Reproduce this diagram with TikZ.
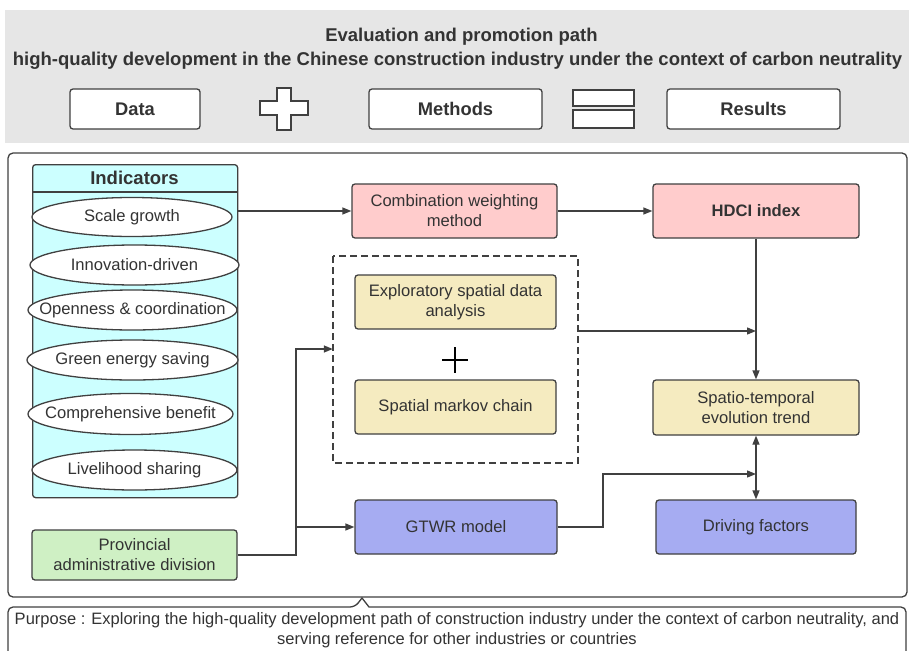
\documentclass[tikz,border=0pt]{standalone}
\usepackage{fontspec}
\setmainfont{Liberation Sans}
\usetikzlibrary{arrows.meta,shapes.geometric,calc}
\definecolor{lc}{HTML}{404040}
\definecolor{txt}{HTML}{333333}
\definecolor{bandgray}{HTML}{E6E6E6}
\definecolor{cyanf}{HTML}{CCFFFF}
\definecolor{pinkf}{HTML}{FFCCCC}
\definecolor{yelf}{HTML}{F5EBC0}
\definecolor{bluef}{HTML}{A6ACF2}
\definecolor{greenf}{HTML}{CFF0C4}
\tikzset{
  box/.style={draw=lc, line width=1.3pt, rounded corners=3pt, align=center, text=txt, inner sep=0pt, font=\fontsize{16.6}{20}\selectfont},
  hbox/.style={box, fill=white, minimum height=40pt, font=\bfseries\fontsize{18.3}{21}\selectfont},
  ell/.style={draw=lc, line width=1.3pt, fill=white},
  elltxt/.style={inner sep=0pt, text=txt, font=\fontsize{16.6}{20}\selectfont},
  arr/.style={draw=lc, line width=1.3pt, -{Triangle[length=9pt,width=7pt]}},
  ln/.style={draw=lc, line width=1.3pt},
}
\begin{document}
\begin{tikzpicture}[x=1pt,y=-1pt]
\useasboundingbox (0,0) rectangle (909,650);
\clip (0,0) rectangle (909,650);
% top band
\fill[bandgray] (5,10) rectangle (909,143);
\node[text=txt, font=\bfseries\fontsize{18.5}{21}\selectfont] (t1) at (461.5,37) {Evaluation and promotion path};
\node[text=txt, font=\bfseries\fontsize{18.5}{21}\selectfont] (t2) at (457.5,61) {high-quality development in the Chinese construction industry under the context of carbon neutrality};
\node[hbox, minimum width=130pt] (data) at (135,109) {Data};
\node[hbox, minimum width=173pt] (meth) at (455.5,109) {Methods};
\node[hbox, minimum width=173pt] (res) at (753.5,109) {Results};
% plus sign outline
\draw[lc, line width=1.2pt, fill=white] (277,88) -- (291,88) -- (291,101) -- (308,101) -- (308,115) -- (291,115) -- (291,130) -- (277,130) -- (277,115) -- (260,115) -- (260,101) -- (277,101) -- cycle;
% equals
\draw[lc, line width=1.2pt, fill=white] (573,90) rectangle (634,106);
\draw[lc, line width=1.2pt, fill=white] (573,110) rectangle (634,128);
% main frame
\draw[lc, line width=1.3pt, rounded corners=5pt, fill=white] (8,153) rectangle (907,597);
% purpose callout
\draw[lc, line width=1.3pt, fill=white, rounded corners=5pt] (8,670) -- (8,607) -- (355,607) [sharp corners] -- (362,598) -- (369,607) [rounded corners=5pt] -- (906,607) -- (906,670);
\node[text=txt, align=center, font=\fontsize{16.5}{20}\selectfont] (purp) at (457,630) {Purpose : Exploring the high-quality development path of construction industry under the context of carbon neutrality, and\\serving reference for other industries or countries};
% indicators container
\node[box, fill=cyanf, minimum width=205pt, minimum height=333pt, anchor=north west] (ind) at (32,164) {};
\draw[ln] (32,192) -- (237,192);
\node[text=txt, font=\bfseries\fontsize{18.5}{21}\selectfont] (indt) at (134.5,178) {Indicators};
\draw[ell] (132,217) ellipse [x radius=100, y radius=19.5];
\node[elltxt] (e1) at (132,217) {Scale growth};
\draw[ell] (134.5,265) ellipse [x radius=104.5, y radius=20];
\node[elltxt] (e2) at (134.5,265) {Innovation-driven};
\draw[ell] (132.5,310) ellipse [x radius=104.5, y radius=20];
\node[elltxt] (e3) at (132.5,310) {Openness \& coordination};
\draw[ell] (132.5,360) ellipse [x radius=105.5, y radius=20];
\node[elltxt] (e4) at (132.5,360) {Green energy saving};
\draw[ell] (130.5,414) ellipse [x radius=102.5, y radius=20.5];
\node[elltxt] (e5) at (130.5,414) {Comprehensive benefit};
\draw[ell] (134.5,470) ellipse [x radius=102.5, y radius=20];
\node[elltxt] (e6) at (134.5,470) {Livelihood sharing};
% provincial
\node[box, fill=greenf, minimum width=205pt, minimum height=50pt] (prov) at (134.5,555) {Provincial\\administrative division};
% middle column
\node[box, fill=pinkf, minimum width=205pt, minimum height=54pt] (comb) at (454.5,211) {Combination weighting\\method};
\draw[lc, line width=1.3pt, dash pattern=on 7pt off 4pt] (333,256) rectangle (578,463);
\node[minimum width=245pt, minimum height=207pt, inner sep=0pt] (dash) at (455.5,359.5) {};
\node[box, fill=yelf, minimum width=201pt, minimum height=54pt] (esda) at (455.5,302) {Exploratory spatial data\\analysis};
\node[box, fill=yelf, minimum width=201pt, minimum height=54pt] (smc) at (455.5,407) {Spatial markov chain};
\draw[black, line width=2pt] (442,360) -- (468,360) (455,347) -- (455,373);
\node[box, fill=bluef, minimum width=202pt, minimum height=54pt] (gtwr) at (456,527) {GTWR model};
% right column
\node[box, fill=pinkf, minimum width=206pt, minimum height=54pt, font=\bfseries\fontsize{16.6}{20}\selectfont] (hdci) at (756,211) {HDCI index};
\node[box, fill=yelf, minimum width=206pt, minimum height=55pt] (spat) at (756,407.5) {Spatio-temporal\\evolution trend};
\node[box, fill=bluef, minimum width=200pt, minimum height=54pt] (driv) at (756,527) {Driving factors};
% connectors
\draw[arr] (comb.west -| ind.east) -- (comb.west);
\draw[arr] (comb.east) -- (hdci.west);
\draw[arr] (hdci.south) -- (spat.north);
\coordinate (d1) at ([yshift=28.5pt]dash.east);
\draw[arr] (d1) -- (d1 -| hdci.south);
\draw[ln, {Triangle[length=9pt,width=7pt]}-{Triangle[length=9pt,width=7pt]}] (spat.south) -- (driv.north);
\coordinate (j1) at (296,555);
\coordinate (j2) at (296,349);
\draw[arr] (prov.east) -- (j1) -- (j2) -- (j2 -| dash.west);
\draw[arr] (gtwr.west -| j1) -- (gtwr.west);
\coordinate (k1) at (603,527);
\coordinate (k2) at (603,474);
\draw[arr] (gtwr.east) -- (k1) -- (k2) -- (k2 -| driv.north);
\end{tikzpicture}
\end{document}
